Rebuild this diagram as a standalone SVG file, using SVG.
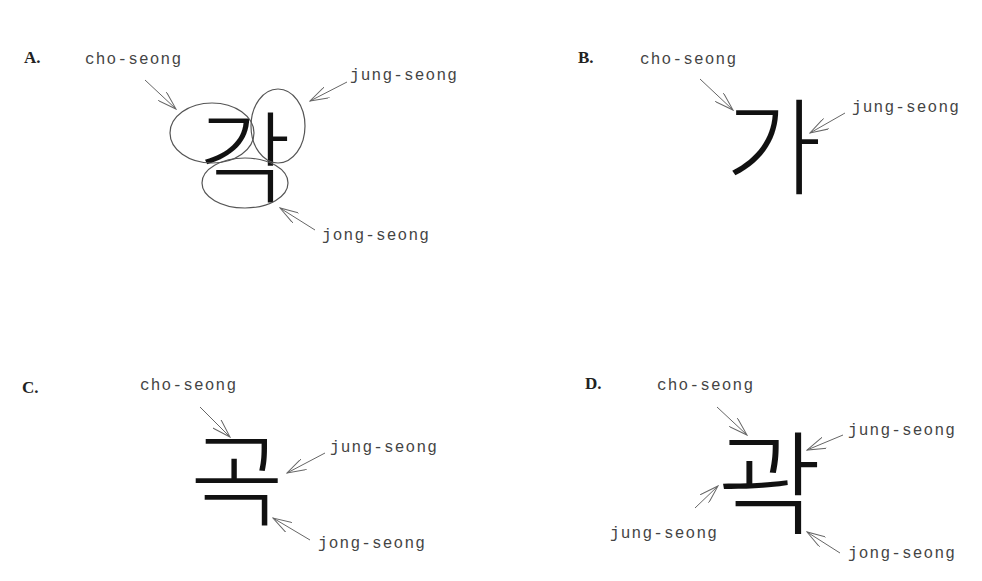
<svg xmlns="http://www.w3.org/2000/svg" width="982" height="581" viewBox="0 0 982 581">
<defs>
<marker id="ah" viewBox="0 0 20 12" refX="19" refY="6" markerWidth="20" markerHeight="12" markerUnits="userSpaceOnUse" orient="auto">
<path d="M0,0 L19,6 L0,12" fill="none" stroke="#666" stroke-width="1"/>
</marker>
<style>
.lbl{font-family:"Liberation Mono",monospace;font-size:16px;letter-spacing:1.2px;fill:#444}
.pl{font-family:"Liberation Serif",serif;font-size:17px;font-weight:bold;fill:#222}
.hg{font-family:"Noto Sans CJK KR",sans-serif;font-weight:300;fill:#111}
.ar{stroke:#666;stroke-width:1;fill:none;marker-end:url(#ah)}
.el{fill:none;stroke:#555;stroke-width:1.2}
</style>
</defs>
<rect width="982" height="581" fill="#fff"/>
<g id="panelA">
<text class="pl" x="24" y="63">A.</text>
<g id="A-char"><text class="hg" x="199" y="195" font-size="100">각</text></g>
<g id="A-ellipses">
<ellipse class="el" cx="212" cy="133" rx="42" ry="30"/>
<ellipse class="el" cx="278" cy="126" rx="27" ry="37"/>
<ellipse class="el" cx="245" cy="183" rx="43" ry="25"/>
</g>
<g id="A-cho"><text class="lbl" x="85" y="64">cho-seong</text></g>
<g id="A-jung"><text class="lbl" x="350" y="80">jung-seong</text></g>
<g id="A-jong"><text class="lbl" x="322" y="240">jong-seong</text></g>
</g>
<g id="panelB">
<text class="pl" x="578" y="63">B.</text>
<g id="B-char"><text class="hg" x="725" y="186" font-size="105">가</text></g>
<g id="B-cho"><text class="lbl" x="640" y="64">cho-seong</text></g>
<g id="B-jung"><text class="lbl" x="852" y="112">jung-seong</text></g>
</g>
<g id="panelC">
<text class="pl" x="22" y="393">C.</text>
<g id="C-char"><text class="hg" x="190" y="518" font-size="102">곡</text></g>
<g id="C-cho"><text class="lbl" x="140" y="390">cho-seong</text></g>
<g id="C-jung"><text class="lbl" x="330" y="452">jung-seong</text></g>
<g id="C-jong"><text class="lbl" x="318" y="548">jong-seong</text></g>
</g>
<g id="panelD">
<text class="pl" x="585" y="389">D.</text>
<g id="D-char"><text class="hg" x="717" y="526" font-size="114">곽</text></g>
<g id="D-cho"><text class="lbl" x="657" y="390">cho-seong</text></g>
<g id="D-jung1"><text class="lbl" x="848" y="435">jung-seong</text></g>
<g id="D-jung2"><text class="lbl" x="610" y="538">jung-seong</text></g>
<g id="D-jong"><text class="lbl" x="848" y="558">jong-seong</text></g>
</g>
<g id="connectors">
<line class="ar" x1="145" y1="80" x2="176" y2="109"/>
<line class="ar" x1="347" y1="82" x2="310" y2="101"/>
<line class="ar" x1="315" y1="230" x2="280" y2="208"/>
<line class="ar" x1="700" y1="79" x2="733" y2="110"/>
<line class="ar" x1="845" y1="113" x2="810" y2="133"/>
<line class="ar" x1="200" y1="407" x2="230" y2="437"/>
<line class="ar" x1="325" y1="453" x2="287" y2="473"/>
<line class="ar" x1="310" y1="540" x2="273" y2="518"/>
<line class="ar" x1="717" y1="407" x2="747" y2="435"/>
<line class="ar" x1="843" y1="435" x2="807" y2="450"/>
<line class="ar" x1="695" y1="508" x2="718" y2="486"/>
<line class="ar" x1="840" y1="553" x2="807" y2="532"/>
</g>
</svg>
